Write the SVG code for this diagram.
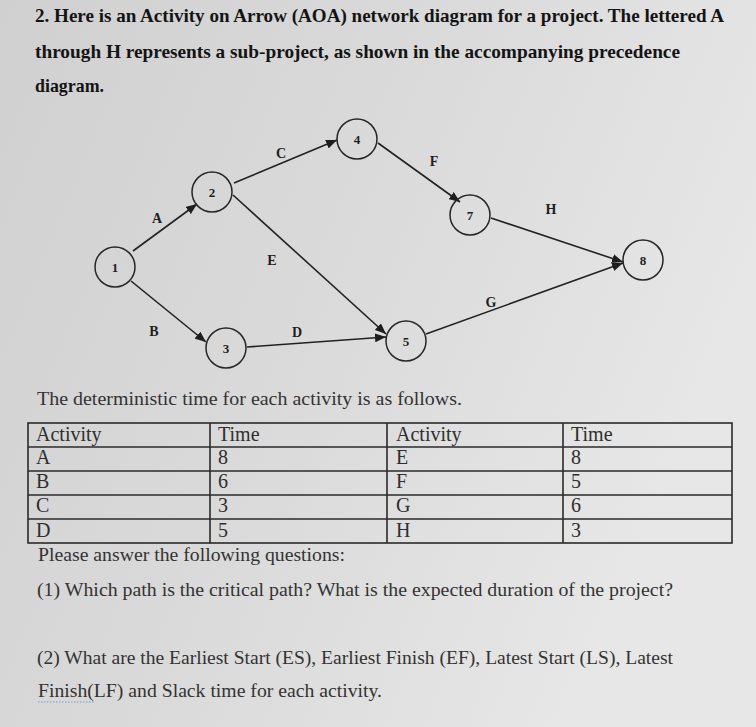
<svg xmlns="http://www.w3.org/2000/svg" width="756" height="727" viewBox="0 0 756 727">
  <defs>
    <linearGradient id="bg" x1="0" y1="0" x2="1" y2="0.4">
      <stop offset="0" stop-color="#d0d0d0"/>
      <stop offset="0.55" stop-color="#dbdbdb"/>
      <stop offset="1" stop-color="#e7e7e7"/>
    </linearGradient>
    <marker id="arr" viewBox="0 0 11 9" refX="11" refY="4.5" markerWidth="11" markerHeight="9" markerUnits="userSpaceOnUse" orient="auto">
      <path d="M0,0 L11,4.5 L0,9 Z" fill="#1e1e1e"/>
    </marker>
    <style>
      .hd { font-family: "Liberation Serif", serif; font-size: 19px; font-weight: bold; fill: #141414; }
      .bd { font-family: "Liberation Serif", serif; font-size: 19px; fill: #333333; }
      .tb { font-family: "Liberation Serif", serif; font-size: 20px; fill: #2e2e2e; }
      .node circle { fill: none; stroke: #262626; stroke-width: 1.5; }
      .node text { font-family: "Liberation Serif", serif; font-size: 13px; font-weight: bold; fill: #1e1e1e; text-anchor: middle; }
      .edge { stroke: #222222; stroke-width: 1.6; fill: none; marker-end: url(#arr); }
      .elab { font-family: "Liberation Serif", serif; font-size: 14px; font-weight: bold; fill: #1e1e1e; text-anchor: middle; }
      .grid { stroke: #2a2a2a; stroke-width: 1.6; fill: none; }
    </style>
  </defs>
  <rect x="0" y="0" width="756" height="727" fill="url(#bg)"/>

  <g id="header">
    <text class="hd" x="35" y="22" textLength="689" lengthAdjust="spacingAndGlyphs">2. Here is an Activity on Arrow (AOA) network diagram for a project. The lettered A</text>
    <text class="hd" x="35" y="58" textLength="645" lengthAdjust="spacingAndGlyphs">through H represents a sub-project, as shown in the accompanying precedence</text>
    <text class="hd" x="35" y="92" textLength="69" lengthAdjust="spacingAndGlyphs">diagram.</text>
  </g>

  <g id="connectors">
    <line class="edge" x1="133" y1="251" x2="197" y2="204"/>
    <line class="edge" x1="131" y1="281" x2="206" y2="342"/>
    <line class="edge" x1="234" y1="183" x2="337" y2="140"/>
    <line class="edge" x1="233" y1="195" x2="386" y2="334"/>
    <line class="edge" x1="247" y1="347" x2="386" y2="337"/>
    <line class="edge" x1="378" y1="143" x2="460" y2="202"/>
    <line class="edge" x1="491" y1="218" x2="623" y2="262"/>
    <line class="edge" x1="426" y1="334" x2="623" y2="263"/>
    <text class="elab" x="157" y="223">A</text>
    <text class="elab" x="154" y="336">B</text>
    <text class="elab" x="281" y="158">C</text>
    <text class="elab" x="272" y="265">E</text>
    <text class="elab" x="297" y="337">D</text>
    <text class="elab" x="434" y="166">F</text>
    <text class="elab" x="551" y="214">H</text>
    <text class="elab" x="491" y="307">G</text>
  </g>

  <g id="n1" class="node"><circle cx="115" cy="267" r="20"/><text x="115" y="272">1</text></g>
  <g id="n2" class="node"><circle cx="212" cy="192" r="20"/><text x="212" y="197">2</text></g>
  <g id="n3" class="node"><circle cx="226" cy="348" r="20"/><text x="226" y="353">3</text></g>
  <g id="n4" class="node"><circle cx="357" cy="139" r="20"/><text x="357" y="144">4</text></g>
  <g id="n5" class="node"><circle cx="406" cy="341" r="20"/><text x="406" y="346">5</text></g>
  <g id="n7" class="node"><circle cx="470" cy="215" r="20"/><text x="470" y="220">7</text></g>
  <g id="n8" class="node"><circle cx="643" cy="260" r="20"/><text x="643" y="265">8</text></g>

  <g id="table">
    <text class="bd" x="37" y="405" textLength="425" lengthAdjust="spacingAndGlyphs">The deterministic time for each activity is as follows.</text>
    <rect class="grid" x="28" y="423" width="704" height="120"/>
    <line class="grid" x1="28" y1="447" x2="732" y2="447"/>
    <line class="grid" x1="28" y1="471" x2="732" y2="471"/>
    <line class="grid" x1="28" y1="495" x2="732" y2="495"/>
    <line class="grid" x1="28" y1="519" x2="732" y2="519"/>
    <line class="grid" x1="210" y1="423" x2="210" y2="543"/>
    <line class="grid" x1="387" y1="423" x2="387" y2="543"/>
    <line class="grid" x1="563" y1="423" x2="563" y2="543"/>
    <text class="tb" x="36" y="441">Activity</text>
    <text class="tb" x="218" y="441">Time</text>
    <text class="tb" x="396" y="441">Activity</text>
    <text class="tb" x="571" y="441">Time</text>
    <text class="tb" x="36" y="464">A</text>
    <text class="tb" x="218" y="464">8</text>
    <text class="tb" x="396" y="464">E</text>
    <text class="tb" x="571" y="464">8</text>
    <text class="tb" x="36" y="488">B</text>
    <text class="tb" x="218" y="488">6</text>
    <text class="tb" x="396" y="488">F</text>
    <text class="tb" x="571" y="488">5</text>
    <text class="tb" x="36" y="512">C</text>
    <text class="tb" x="218" y="512">3</text>
    <text class="tb" x="396" y="512">G</text>
    <text class="tb" x="571" y="512">6</text>
    <text class="tb" x="36" y="537">D</text>
    <text class="tb" x="218" y="537">5</text>
    <text class="tb" x="396" y="537">H</text>
    <text class="tb" x="571" y="537">3</text>
  </g>

  <g id="questions">
    <text class="bd" x="38" y="561" textLength="307" lengthAdjust="spacingAndGlyphs">Please answer the following questions:</text>
    <text class="bd" x="37" y="596" textLength="636" lengthAdjust="spacingAndGlyphs">(1) Which path is the critical path? What is the expected duration of the project?</text>
    <text class="bd" x="37" y="664" textLength="636" lengthAdjust="spacingAndGlyphs">(2) What are the Earliest Start (ES), Earliest Finish (EF), Latest Start (LS), Latest</text>
    <text class="bd" x="38" y="697" textLength="344" lengthAdjust="spacingAndGlyphs">Finish(LF) and Slack time for each activity.</text>
    <line x1="38" y1="702" x2="95" y2="702" stroke="#7a9ac8" stroke-width="1.2" stroke-dasharray="1.5 1.5"/>
  </g>
</svg>
